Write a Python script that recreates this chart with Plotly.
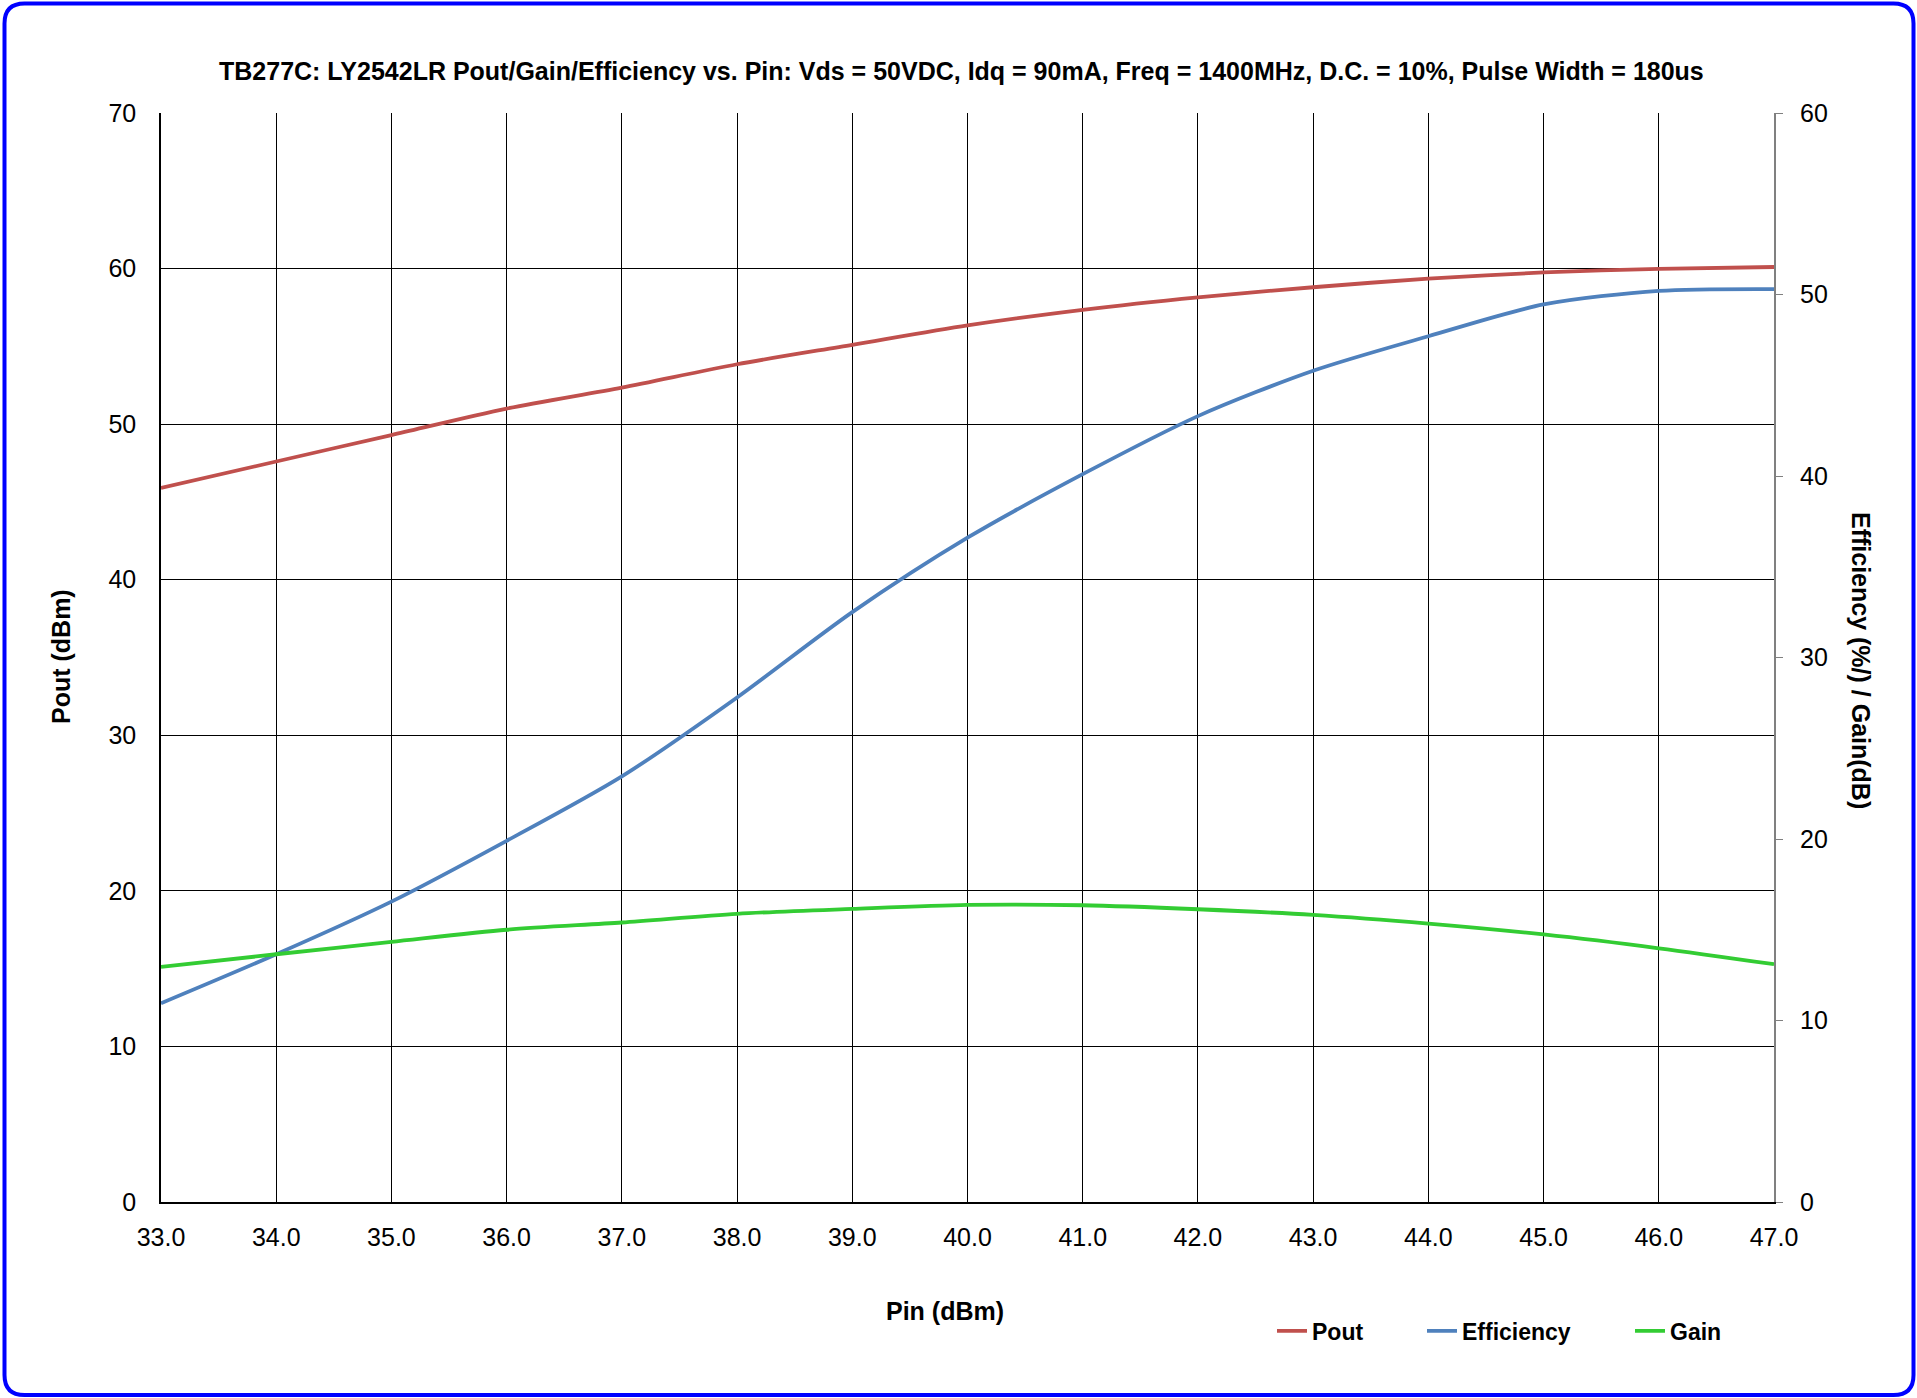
import plotly.graph_objects as go

# ---- data ----
pin = [33, 34, 35, 36, 37, 38, 39, 40, 41, 42, 43, 44, 45, 46, 47]
pout = [45.9, 47.6, 49.3, 51.0, 52.35, 53.85, 55.1, 56.35, 57.35, 58.15, 58.8, 59.35, 59.75, 59.98, 60.1]
efficiency = [10.95, 13.65, 16.55, 19.9, 23.45, 27.8, 32.5, 36.6, 40.1, 43.3, 45.8, 47.7, 49.45, 50.2, 50.3]
gain = [12.95, 13.65, 14.33, 15.0, 15.4, 15.88, 16.15, 16.37, 16.35, 16.13, 15.82, 15.34, 14.74, 13.98, 13.1]

x_ticks = [33, 34, 35, 36, 37, 38, 39, 40, 41, 42, 43, 44, 45, 46, 47]
y_left_ticks = [0, 10, 20, 30, 40, 50, 60, 70]
y_right_ticks = [0, 10, 20, 30, 40, 50, 60]

title_text = ("TB277C: LY2542LR Pout/Gain/Efficiency vs. Pin: Vds = 50VDC, Idq = 90mA, "
              "Freq = 1400MHz, D.C. = 10%, Pulse Width = 180us")

FONT = "Liberation Sans, Arial, sans-serif"
W, H = 1917, 1398
L, R, T, B = 161, 143, 113, 196
PW, PH = W - L - R, H - T - B
TICK_SIZE = 25
LABEL_SIZE = 25
LEGEND_SIZE = 23


def px_x(p):
    return (p - L) / PW


def px_y(p):
    return (H - B - p) / PH


fig = go.Figure()
fig.add_trace(go.Scatter(x=pin, y=pout, name="Pout", mode="lines",
                         line=dict(color="#C0504D", width=3.8, shape="spline", smoothing=0.8),
                         yaxis="y", legend="legend"))
fig.add_trace(go.Scatter(x=pin, y=efficiency, name="Efficiency", mode="lines",
                         line=dict(color="#4F81BD", width=3.8, shape="spline", smoothing=0.8),
                         yaxis="y2", legend="legend2"))
fig.add_trace(go.Scatter(x=pin, y=gain, name="Gain", mode="lines",
                         line=dict(color="#33CC33", width=3.8, shape="spline", smoothing=0.8),
                         yaxis="y2", legend="legend3"))

leg_common = dict(orientation="h", xanchor="left", yanchor="middle",
                  font=dict(family=FONT, size=LEGEND_SIZE, color="black", weight="bold"),
                  bgcolor="rgba(0,0,0,0)", borderwidth=0)
leg_y = px_y(1331)

# rounded blue border
x0, x1 = px_x(4.5), px_x(1913.5)
y0, y1 = px_y(1395), px_y(3.5)
rx, ry = 20 / PW, 20 / PH
path = (f"M {x0+rx} {y1} L {x1-rx} {y1} Q {x1} {y1} {x1} {y1-ry} "
        f"L {x1} {y0+ry} Q {x1} {y0} {x1-rx} {y0} "
        f"L {x0+rx} {y0} Q {x0} {y0} {x0} {y0+ry} "
        f"L {x0} {y1-ry} Q {x0} {y1} {x0+rx} {y1} Z")

fig.update_layout(
    width=W, height=H,
    margin=dict(l=L, r=R, t=T, b=B, autoexpand=False),
    paper_bgcolor="white", plot_bgcolor="white",
    font=dict(family=FONT, color="black"),
    showlegend=True,
    legend=dict(x=px_x(1272), y=leg_y, **leg_common),
    legend2=dict(x=px_x(1422), y=leg_y, **leg_common),
    legend3=dict(x=px_x(1630), y=leg_y, **leg_common),
    xaxis=dict(range=[33, 47], tickvals=x_ticks, tickformat=".1f",
               showgrid=True, gridcolor="black", gridwidth=1.2,
               showline=True, linecolor="black", linewidth=1.5,
               zeroline=False, ticks="", ticklabelstandoff=12,
               tickfont=dict(family=FONT, size=TICK_SIZE, color="black")),
    yaxis=dict(range=[0, 70], tickvals=y_left_ticks,
               showgrid=True, gridcolor="black", gridwidth=1.2,
               showline=True, linecolor="black", linewidth=1.5,
               zeroline=False, ticks="", ticklabelstandoff=18,
               tickfont=dict(family=FONT, size=TICK_SIZE, color="black")),
    yaxis2=dict(range=[0, 60], tickvals=y_right_ticks, overlaying="y", side="right",
                showgrid=False, showline=True, linecolor="#808080", linewidth=2,
                zeroline=False, ticks="outside", ticklen=7, tickcolor="#808080",
                ticklabelstandoff=12,
                tickfont=dict(family=FONT, size=TICK_SIZE, color="black")),
    shapes=[dict(type="path", xref="paper", yref="paper", path=path,
                 line=dict(color="#0000FF", width=4), fillcolor="rgba(0,0,0,0)", layer="above")],
    annotations=[
        dict(text=f"<b>{title_text}</b>", xref="paper", yref="paper",
             x=px_x(961), y=px_y(71), xanchor="center", yanchor="middle", showarrow=False,
             font=dict(family=FONT, size=25, color="black")),
        dict(text="<b>Pin (dBm)</b>", xref="paper", yref="paper",
             x=px_x(945), y=px_y(1311), xanchor="center", yanchor="middle", showarrow=False,
             font=dict(family=FONT, size=LABEL_SIZE, color="black")),
        dict(text="<b>Pout (dBm)</b>", xref="paper", yref="paper", textangle=-90,
             x=px_x(61), y=px_y(657), xanchor="center", yanchor="middle", showarrow=False,
             font=dict(family=FONT, size=LABEL_SIZE, color="black")),
        dict(text="<b>Efficiency (%/) / Gain(dB)</b>", xref="paper", yref="paper", textangle=90,
             x=px_x(1861), y=px_y(660), xanchor="center", yanchor="middle", showarrow=False,
             font=dict(family=FONT, size=LABEL_SIZE, color="black")),
    ],
)

fig.write_html("out.html", config={"displayModeBar": False},
               post_script="document.body.style.margin='0px';document.body.style.padding='0px';")
